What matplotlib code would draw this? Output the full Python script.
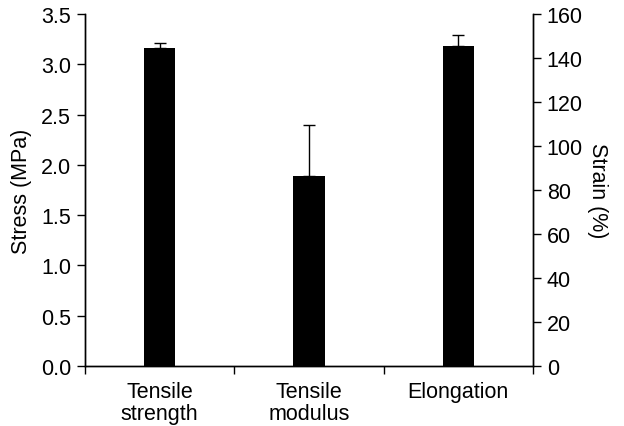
import matplotlib
matplotlib.use("Agg")
import matplotlib.pyplot as plt
import numpy as np

plt.rcParams['font.family'] = ['Liberation Sans', 'DejaVu Sans']

categories = ["Tensile\nstrength", "Tensile\nmodulus", "Elongation"]
stress_values = [3.16, 1.89]        # MPa (left axis)
stress_errors = [0.05, 0.51]
strain_values = [145.5]             # % (right axis)
strain_errors = [5.0]
left_ticks = [0.0, 0.5, 1.0, 1.5, 2.0, 2.5, 3.0, 3.5]
right_ticks = [0, 20, 40, 60, 80, 100, 120, 140, 160]

fig = plt.figure(figsize=(6.24, 4.27), dpi=100)
ax = fig.add_axes([0.136, 0.1405, 0.718, 0.824])
ax2 = ax.twinx()

pos = np.arange(len(categories)) + 0.5
w = 0.21
fs = 15.5

ax.bar(pos[:2], stress_values, width=w, color='black', zorder=2)
ax.errorbar(pos[:2], stress_values, yerr=[[0, 0], stress_errors], fmt='none',
            ecolor='black', elinewidth=1.0, capsize=4.5, capthick=1.0, zorder=1)
ax2.bar(pos[2:], strain_values, width=w, color='black', zorder=2)
ax2.errorbar(pos[2:], strain_values, yerr=[[0], strain_errors], fmt='none',
             ecolor='black', elinewidth=1.0, capsize=4.5, capthick=1.0, zorder=1)

ax.set_xlim(0, 3)
ax.set_ylim(0, 3.5)
ax2.set_ylim(0, 160)
ax.set_yticks(left_ticks)
ax.set_yticklabels([f"{t:.1f}" for t in left_ticks], fontsize=fs)
ax2.set_yticks(right_ticks)
ax2.set_yticklabels([str(t) for t in right_ticks], fontsize=fs)

ax.set_xticks([0, 1, 2, 3])
ax.set_xticklabels([])
ax.set_xticks(pos, minor=True)
ax.set_xticklabels(categories, minor=True, fontsize=fs, linespacing=1.05)
ax.tick_params(axis='x', which='minor', length=0, pad=11)
ax.tick_params(axis='x', which='major', length=6, width=1, direction='out')
ax.tick_params(axis='y', length=6, width=1, direction='out', pad=4)
ax2.tick_params(axis='y', length=6, width=1, direction='out', pad=4)

for a in (ax, ax2):
    a.spines['top'].set_visible(False)
    for s in a.spines.values():
        s.set_linewidth(1.0)

ax.set_ylabel("Stress (MPa)", fontsize=fs, labelpad=6)
ax2.set_ylabel("Strain (%)", fontsize=fs, rotation=270, labelpad=18)

fig.savefig("out.png", dpi=100)
